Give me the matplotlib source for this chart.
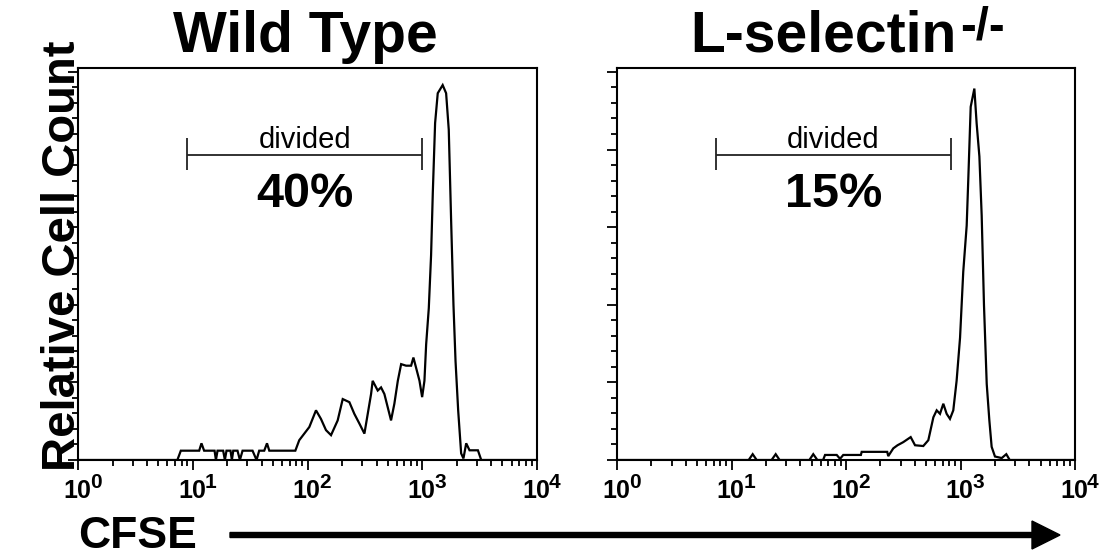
import numpy as np
import matplotlib
matplotlib.use("Agg")
import matplotlib.pyplot as plt
import matplotlib.patches as mpatches
from matplotlib.ticker import MultipleLocator, LogLocator, FixedLocator, NullFormatter

plt.rcParams['font.family'] = ['Liberation Sans', 'DejaVu Sans']

# ---------------- data ----------------
panel_titles = ["Wild Type", "L-selectin"]
title_superscript = "-/-"
y_label = "Relative Cell Count"
x_label = "CFSE"
gate_label = "divided"
gate_percent = ["40%", "15%"]
gate_wt = [8.9, 1000.0]
gate_ko = [7.3, 826.0]
x_ticks = [1, 10, 100, 1000, 10000]
x_tick_base = "10"
x_tick_exponents = ["0", "1", "2", "3", "4"]

# log10(CFSE intensity) and relative cell count (% of axis height)
wt_log_cfse = [0.0, 0.866, 0.896, 1.056, 1.076, 1.099, 1.190, 1.202, 1.216, 1.265,
               1.280, 1.294, 1.329, 1.341, 1.353, 1.390, 1.411, 1.434, 1.521, 1.556,
               1.579, 1.623, 1.647, 1.667, 1.894, 1.928, 1.972, 2.016, 2.074, 2.117,
               2.161, 2.205, 2.263, 2.307, 2.365, 2.408, 2.452, 2.496, 2.525, 2.554,
               2.568, 2.612, 2.641, 2.670, 2.699, 2.728, 2.757, 2.787, 2.816, 2.859,
               2.903, 2.923, 2.946, 2.976, 2.999, 3.019, 3.034, 3.057, 3.077, 3.092,
               3.112, 3.135, 3.178, 3.208, 3.231, 3.252, 3.272, 3.290, 3.313, 3.339,
               3.359, 3.383, 3.412, 3.485, 3.514, 4.0]
wt_count = [0, 0, 2.4, 2.4, 4.3, 2.4, 2.4, 0, 2.4, 2.4,
            0, 2.4, 2.4, 0, 2.4, 2.4, 0, 2.4, 2.4, 0,
            2.4, 2.4, 4.3, 2.4, 2.4, 5.1, 6.8, 8.5, 12.8, 10.6,
            7.7, 6.4, 10.2, 15.7, 14.9, 11.9, 9.4, 6.8, 11.9, 17.0,
            20.4, 17.9, 18.7, 17.0, 13.6, 10.2, 14.5, 20.4, 24.7, 24.3,
            24.3, 26.4, 23.8, 20.4, 16.2, 20.4, 29.8, 39.1, 52.8, 68.9,
            86.8, 94.5, 96.6, 94.5, 85.1, 61.3, 40.0, 25.5, 12.8, 1.7,
            0.4, 4.3, 2.5, 2.5, 0, 0]

ko_log_cfse = [0.0, 1.15, 1.185, 1.22, 1.35, 1.386, 1.42, 1.68, 1.714, 1.75,
               1.80, 1.817, 1.919, 1.948, 1.976, 2.13, 2.137, 2.36, 2.369, 2.413,
               2.45, 2.50, 2.565, 2.603, 2.675, 2.719, 2.763, 2.792, 2.821, 2.850,
               2.879, 2.908, 2.937, 2.966, 2.996, 3.024, 3.054, 3.068, 3.089, 3.121,
               3.141, 3.165, 3.185, 3.205, 3.229, 3.252, 3.272, 3.301, 3.36, 3.40,
               3.43, 4.0]
ko_count = [0, 0, 1.5, 0, 0, 1.5, 0, 0, 1.5, 0,
            0, 1.3, 1.3, 0.3, 1.3, 1.3, 2.1, 2.1, 1.0, 3.0,
            3.8, 4.6, 5.9, 3.8, 3.6, 5.1, 11.0, 12.8, 11.9, 14.5,
            11.9, 10.6, 12.8, 20.4, 31.5, 48.5, 60.4, 72.3, 91.0, 95.7,
            86.7, 78.2, 63.0, 40.0, 19.6, 10.2, 3.4, 0.9, 0.5, 1.5,
            0, 0]

# ---------------- figure ----------------
W, H = 1105, 555
fig = plt.figure(figsize=(W / 100, H / 100), dpi=100)
ax1 = fig.add_axes([78 / W, 95 / H, 459 / W, 392 / H])
ax2 = fig.add_axes([617 / W, 95 / H, 458 / W, 392 / H])

panels = [
    (ax1, wt_log_cfse, wt_count, gate_wt, gate_percent[0]),
    (ax2, ko_log_cfse, ko_count, gate_ko, gate_percent[1]),
]

for ax, lx, cnt, gate, pct in panels:
    ax.plot(10 ** np.asarray(lx), cnt, color='black', lw=1.6, solid_joinstyle='miter')
    ax.set_xscale('log')
    ax.set_xlim(1, 1e4)
    ax.set_ylim(0, 101)
    ax.xaxis.set_major_locator(FixedLocator(x_ticks))
    ax.xaxis.set_major_formatter(NullFormatter())
    ax.xaxis.set_minor_locator(LogLocator(base=10, subs=np.arange(2, 10)))
    ax.xaxis.set_minor_formatter(NullFormatter())
    ax.yaxis.set_major_locator(MultipleLocator(20))
    ax.yaxis.set_minor_locator(MultipleLocator(4))
    ax.yaxis.set_major_formatter(NullFormatter())
    ax.tick_params(which='both', direction='out', top=False, right=False,
                   width=1.3, colors='black')
    ax.tick_params(which='major', length=7)
    ax.tick_params(which='minor', length=4)
    for s in ax.spines.values():
        s.set_linewidth(1.5)
        s.set_color('black')
    # tick labels: "10" with a large superscript exponent
    for xt, ex in zip(x_ticks, x_tick_exponents):
        ax.annotate(x_tick_base, xy=(xt, 0), xycoords=('data', 'axes fraction'),
                    xytext=(13, -38), textcoords='offset pixels',
                    ha='right', va='baseline', fontsize=18, fontweight='bold',
                    annotation_clip=False)
        ax.annotate(ex, xy=(xt, 0), xycoords=('data', 'axes fraction'),
                    xytext=(12, -28), textcoords='offset pixels',
                    ha='left', va='baseline', fontsize=15, fontweight='bold',
                    annotation_clip=False)
    # gate bracket
    g0, g1 = gate
    ax.hlines(78.6, g0, g1, color='#222222', lw=1.3)
    ax.vlines([g0, g1], 74.7, 83.0, color='#222222', lw=1.3)
    xc = np.sqrt(g0 * g1)
    ax.text(xc, 80.3, gate_label, ha='center', va='baseline', fontsize=21)
    ax.text(xc, 65.3, pct, ha='center', va='baseline', fontsize=35, fontweight='bold')

# titles
fig.text(305 / W, 1 - 52 / H, panel_titles[0], ha='center', va='baseline',
         fontsize=41, fontweight='bold')
fig.text(690 / W, 1 - 52 / H, panel_titles[1], ha='left', va='baseline',
         fontsize=41, fontweight='bold')
fig.text(960 / W, 1 - 40 / H, title_superscript, ha='left', va='baseline',
         fontsize=34, fontweight='bold')

# y label
fig.text(63 / W, 1 - 256 / H, y_label, rotation=90, ha='center', va='center',
         fontsize=34, fontweight='bold')

# CFSE label + arrow
fig.text(78 / W, 1 - 548 / H, x_label, ha='left', va='baseline',
         fontsize=32, fontweight='bold')
arrow = mpatches.FancyArrow(230 / W, 1 - 535 / H, (1060 - 230) / W, 0,
                            width=5 / H, head_width=28 / H, head_length=28 / W,
                            length_includes_head=True, color='black',
                            transform=fig.transFigure)
fig.add_artist(arrow)

fig.savefig("out.png", dpi=100)
